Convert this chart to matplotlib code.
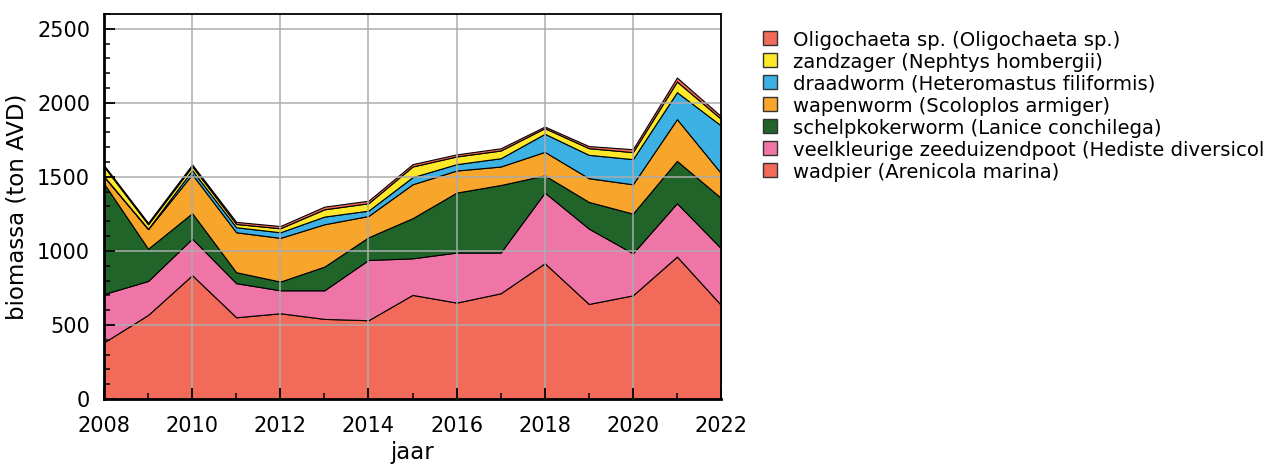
import matplotlib
matplotlib.use("Agg")
import matplotlib.pyplot as plt
from matplotlib.patches import Rectangle
from matplotlib.ticker import MultipleLocator

years = list(range(2008, 2023))
wadpier = [383, 568, 836, 552, 579, 541, 532, 703, 651, 714, 917, 642, 700, 962, 635]
veelkleurige = [326, 229, 247, 230, 155, 193, 407, 247, 338, 275, 477, 509, 284, 360, 383]
schelpkokerworm = [746, 218, 172, 74, 59, 160, 153, 271, 405, 456, 116, 180, 268, 286, 340]
wapenworm = [47, 132, 263, 270, 295, 286, 144, 229, 149, 125, 159, 160, 198, 282, 167]
draadworm = [2, 3, 27, 34, 38, 52, 36, 48, 43, 56, 122, 158, 170, 182, 322]
zandzager = [66, 30, 27, 22, 27, 49, 50, 72, 52, 52, 38, 45, 47, 72, 45]
oligochaeta = [9, 10, 12, 14, 15, 18, 17, 16, 14, 15, 11, 14, 20, 27, 18]

labels = [
    "wadpier (Arenicola marina)",
    "veelkleurige zeeduizendpoot (Hediste diversicolor)",
    "schelpkokerworm (Lanice conchilega)",
    "wapenworm (Scoloplos armiger)",
    "draadworm (Heteromastus filiformis)",
    "zandzager (Nephtys hombergii)",
    "Oligochaeta sp. (Oligochaeta sp.)",
]
colors = ["#F26B5A", "#EF75A7", "#20642A", "#F8A52C", "#3EB1E4", "#FDE92A", "#F26B5A"]
series = [wadpier, veelkleurige, schelpkokerworm, wapenworm, draadworm, zandzager, oligochaeta]

plt.rcParams['font.family'] = ['DejaVu Sans']

W, H = 1263, 465
fig = plt.figure(figsize=(W / 100, H / 100), dpi=100)
ax = fig.add_axes([104/W, 1 - 399/H, (721-104)/W, (399-14)/H])

ax.stackplot(years, *series, colors=colors, edgecolor="black", linewidth=0.8, zorder=1)

ax.set_xlim(2008, 2022)
ax.set_ylim(0, 2600)
ax.xaxis.set_major_locator(MultipleLocator(2))
ax.xaxis.set_minor_locator(MultipleLocator(1))
ax.yaxis.set_major_locator(MultipleLocator(500))
ax.yaxis.set_minor_locator(MultipleLocator(100))
ax.grid(True, which="major", color="#acacac", linewidth=1.1, zorder=2)
ax.set_axisbelow(False)
ax.tick_params(axis="both", which="major", direction="in", length=8, width=1.3,
               labelsize=15, top=False, right=False)
ax.tick_params(axis="x", which="major", pad=12)
ax.tick_params(axis="y", which="major", pad=10)
ax.tick_params(axis="both", which="minor", direction="in", length=4.5, width=1.1,
               top=False, right=False)
for s in ax.spines.values():
    s.set_linewidth(1.3)
    s.set_zorder(3)
ax.spines["left"].set_linewidth(2)
ax.spines["bottom"].set_linewidth(2)

ax.set_ylabel("biomassa (ton AVD)", fontsize=16.5, labelpad=6)
ax.set_xlabel("jaar", fontsize=16.5, labelpad=4)

# legend, top entry = last layer
row0, dy = 38.5, 21.95
for i, (c, lab) in enumerate(zip(colors[::-1], labels[::-1])):
    yc = row0 + i * dy
    fig.patches.append(Rectangle((763/W, 1 - (yc + 7)/H), 14/W, 14/H,
                                 transform=fig.transFigure, facecolor=c,
                                 edgecolor="#333333", linewidth=1))
    fig.text(793/W, 1 - yc/H, lab, fontsize=14.1, va="center_baseline", ha="left")

fig.savefig("out.png", dpi=100)
